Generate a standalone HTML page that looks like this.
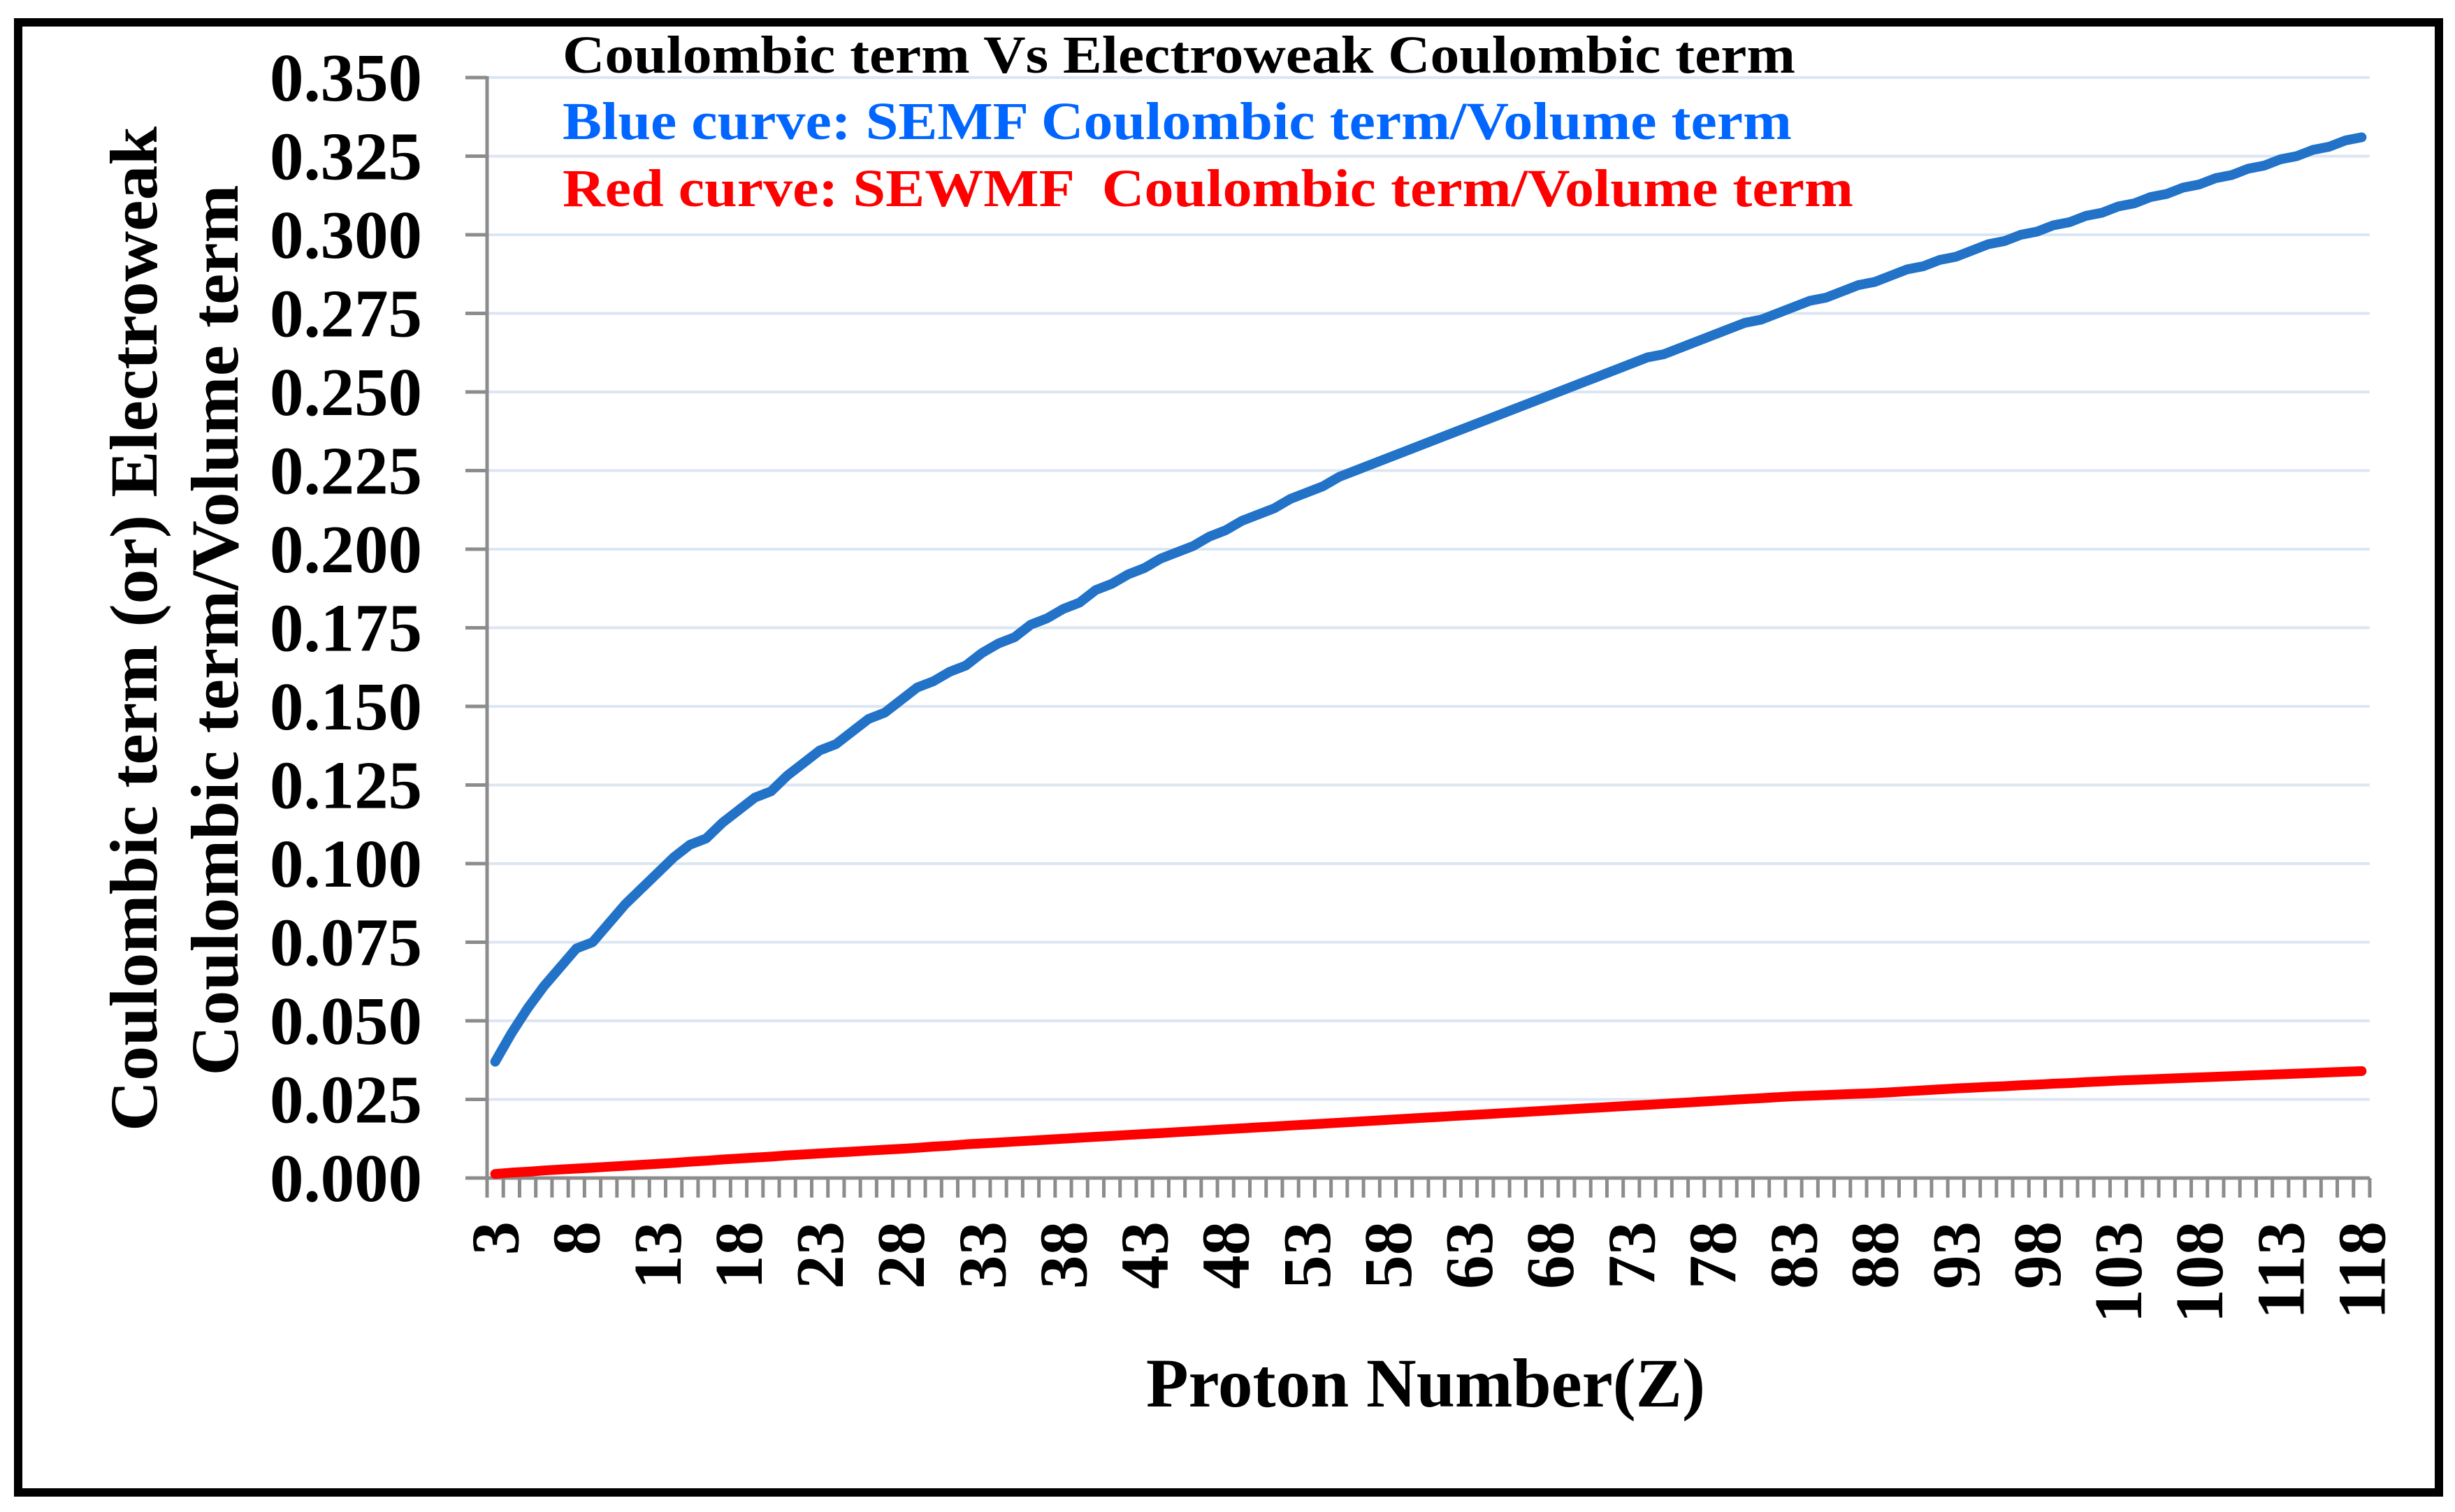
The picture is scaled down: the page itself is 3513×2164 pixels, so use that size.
<!DOCTYPE html>
<html><head><meta charset="utf-8"><style>
html,body{margin:0;padding:0;background:#fff;}
svg{display:block;font-family:"Liberation Serif",serif;font-weight:bold;}
</style></head><body>
<svg id="chart" width="3513" height="2164" viewBox="0 0 3513 2164" xmlns="http://www.w3.org/2000/svg">
<rect x="0" y="0" width="3513" height="2164" fill="#fff"/>
<rect x="26" y="32" width="3464" height="2104" fill="none" stroke="#000" stroke-width="12"/>
<g id="grid"></g>
<g id="axes"></g>
<g id="series"></g>
<text x="805" y="104" font-size="76" fill="#000" textLength="1764" lengthAdjust="spacingAndGlyphs">Coulombic term Vs Electroweak Coulombic term</text>
<text x="805" y="199" font-size="76" fill="#0066ff" textLength="1759" lengthAdjust="spacingAndGlyphs">Blue curve: SEMF Coulombic term/Volume term</text>
<text x="805" y="295" font-size="76" fill="#ff0000" textLength="1847" lengthAdjust="spacingAndGlyphs" xml:space="preserve">Red curve: SEWMF  Coulombic term/Volume term</text>
<text x="2040" y="2013" font-size="100" text-anchor="middle" textLength="800" lengthAdjust="spacingAndGlyphs">Proton Number(Z)</text>
<text transform="translate(224,900) rotate(-90)" font-size="96" text-anchor="middle" textLength="1438" lengthAdjust="spacingAndGlyphs">Coulombic term (or) Electroweak</text>
<text transform="translate(340,902) rotate(-90)" font-size="96" text-anchor="middle" textLength="1275" lengthAdjust="spacingAndGlyphs">Coulombic term/Volume term</text>
</svg>
<script>
const categories = [];
for (let z = 3; z <= 118; z++) categories.push(z);
const yTicks = [0,0.025,0.05,0.075,0.1,0.125,0.15,0.175,0.2,0.225,0.25,0.275,0.3,0.325,0.35];
const yTickLabels = ["0.000","0.025","0.050","0.075","0.100","0.125","0.150","0.175","0.200","0.225","0.250","0.275","0.300","0.325","0.350"];
const blueValues = [.037,.046,.054,.061,.067,.073,.075,.081,.087,.092,.097,.102,.106,.108,.113,.117,.121,.123,.128,.132,.136,.138,.142,.146,.148,.152,.156,.158,.161,.163,.167,.170,.172,.176,.178,.181,.183,.187,.189,.192,.194,.197,.199,.201,.204,.206,.209,.211,.213,.216,.218,.220,.223,.225,.227,.229,.231,.233,.235,.237,.239,.241,.243,.245,.247,.249,.251,.253,.255,.257,.259,.261,.262,.264,.266,.268,.270,.272,.273,.275,.277,.279,.280,.282,.284,.285,.287,.289,.290,.292,.293,.295,.297,.298,.300,.301,.303,.304,.306,.307,.309,.310,.312,.313,.315,.316,.318,.319,.321,.322,.324,.325,.327,.328,.330,.331];
const redValues = [.0013,.0017,.0020,.0024,.0027,.0030,
.0033,.0036,.0039,.0042,.0045,.0048,.0052,.0055,.0059,.0062,.0065,.0068,.0072,.0075,.0078,
.0081,.0084,.0087,.0090,.0093,.0096,.0100,.0103,.0107,.0110,.0113,.0116,.0119,.0122,.0125,
.0128,.0131,.0134,.0137,.0140,.0143,.0146,.0149,.0152,.0155,.0158,.0161,.0164,.0167,.0170,
.0173,.0176,.0179,.0182,.0185,.0188,.0191,.0194,.0197,.0200,.0203,.0206,.0209,.0212,.0215,
.0218,.0221,.0224,.0227,.0230,.0233,.0236,.0239,.0242,.0245,.0248,.0251,.0254,.0257,.0260,
.0262,.0264,.0266,.0268,.0270,.0273,.0276,.0279,.0282,.0285,.0287,.0290,.0292,.0295,.0297,
.0300,.0302,.0305,.0307,.0310,.0312,.0314,.0316,.0318,.0320,.0322,.0324,.0326,.0328,.0330,
.0332,.0334,.0336,.0338,.0340];

const NS = "http://www.w3.org/2000/svg";
const X0 = 697, X1 = 3391, Y0 = 1686, Y1 = 111, YMAX = 0.35;
const n = categories.length;
const step = (X1 - X0) / n;
function xPos(i){ return X0 + (i + 0.5) * step; }
function yPos(v){ return Y0 - (v / YMAX) * (Y0 - Y1); }
function mk(tag, attrs, parent){ const e = document.createElementNS(NS, tag); for (const k in attrs) e.setAttribute(k, attrs[k]); parent.appendChild(e); return e; }

const grid = document.getElementById('grid');
const axes = document.getElementById('axes');
const series = document.getElementById('series');

yTicks.forEach((t, i) => {
  const y = yPos(t);
  if (t > 0) {
    const g = mk('line', {x1: X0, x2: X1, y1: y, y2: y, stroke: '#dce6f2', 'stroke-width': 4}, grid);
    
    
  }
  const tk = mk('line', {x1: 666, x2: X0, y1: y, y2: y, stroke: '#8c8c8c', 'stroke-width': 5}, axes);
  
  
  const lb = mk('text', {x: 604, y: y + 33, 'font-size': 97, 'text-anchor': 'end', textLength: 218, lengthAdjust: 'spacingAndGlyphs'}, axes);
  lb.textContent = yTickLabels[i];
  
  
});

const ya = mk('line', {x1: X0, x2: X0, y1: Y1 - 2, y2: Y0, stroke: '#8c8c8c', 'stroke-width': 5}, axes);


const xa = mk('line', {x1: X0, x2: X1, y1: Y0, y2: Y0, stroke: '#8c8c8c', 'stroke-width': 5}, axes);



for (let i = 0; i <= n; i++) {
  const x = X0 + i * step;
  const tk = mk('line', {x1: x, x2: x, y1: Y0, y2: 1714, stroke: '#8c8c8c', 'stroke-width': 5}, axes);
  
  
}
categories.forEach((z, i) => {
  if ((z - 3) % 5 !== 0) return;
  const x = xPos(i) + 33;
  const lb = mk('text', {transform: 'translate(' + x + ',1748) rotate(-90)', 'font-size': 97, 'text-anchor': 'end'}, axes);
  lb.textContent = String(z);
  
  
});

function drawLine(vals, color, w, name){
  const d = vals.map((v, i) => (i ? 'L' : 'M') + xPos(i).toFixed(1) + ' ' + yPos(v).toFixed(1)).join(' ');
  const p = mk('path', {d: d, fill: 'none', stroke: color, 'stroke-width': w, 'stroke-linejoin': 'round', 'stroke-linecap': 'round'}, series);
  
  
}
drawLine(redValues, '#ff0000', 14, 'red-curve-sewmf');
drawLine(blueValues, '#2272c8', 14, 'blue-curve-semf');
</script>
</body></html>
